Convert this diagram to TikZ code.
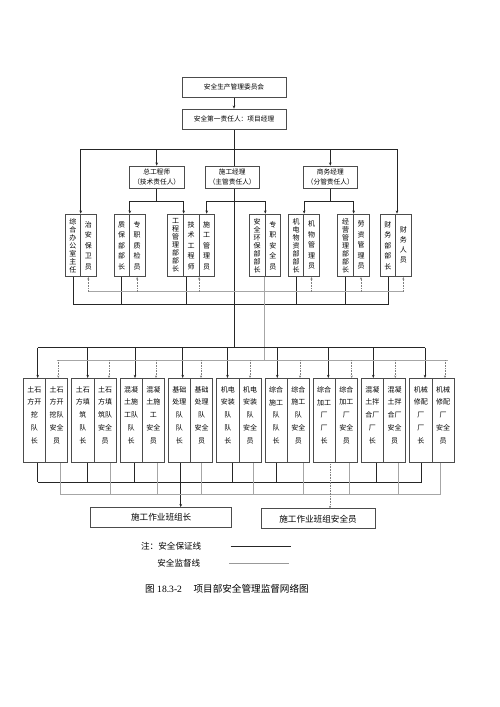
\documentclass[tikz,border=0pt]{standalone}
\usepackage{fontspec}
\setmainfont{Liberation Serif}
\newfontfamily\cjk{Noto Sans CJK SC}
\usetikzlibrary{arrows.meta,backgrounds}
\begin{document}
\begin{tikzpicture}[x=1pt,y=-1pt,
  bx/.style={draw=black!70, line width=0.6pt, inner sep=0pt, align=center, fill=white},
  topbox/.style={bx, minimum width=104pt, minimum height=20pt, font=\cjk\fontsize{6.7}{8}\selectfont},
  midbox/.style={bx, minimum width=54.5pt, minimum height=22pt, font=\cjk\fontsize{6.7}{10}\selectfont},
  vbox/.style={bx, minimum width=15.7pt, minimum height=62.7pt, font=\cjk\fontsize{7}{#1}\selectfont},
  pbox/.style={bx, minimum width=22.2pt, minimum height=83.7pt},
  ptext/.style={align=center, inner sep=0pt, font=\cjk\fontsize{7}{12.9}\selectfont},
  botbox/.style={bx, minimum height=20pt, font=\cjk\fontsize{8.6}{10}\selectfont},
  lg/.style={inner sep=0pt, font=\cjk\fontsize{8.6}{10}\selectfont},
  ln/.style={draw=black!85, line width=0.7pt},
  arr/.style={ln, -{Stealth[length=3.2pt,width=2.6pt]}},
  gl/.style={draw=black!35, line width=0.6pt},
  garr/.style={draw=black!50, line width=0.6pt, densely dotted, -{Stealth[length=2.6pt,width=2.2pt]}}]
\useasboundingbox (0,0) rectangle (500,707);

% top
\node[topbox] (wyh) at (234,87) {安全生产管理委员会};
\node[topbox] (zrr) at (234,119) {安全第一责任人：项目经理};
\node[midbox] (zgc) at (156.7,177) {总工程师\\（技术责任人）};
\node[midbox] (sgj) at (232.2,177) {施工经理\\（主管责任人）};
\node[midbox] (swj) at (330.3,177) {商务经理\\（分管责任人）};

% row 2
\node[vbox=8] (a1) at (72.85,245.35) {综\\合\\办\\公\\室\\主\\任};
\node[vbox=10.5] (a2) at (88.35,245.35) {治\\安\\保\\卫\\员};
\node[vbox=10.5] (a3) at (121.65,245.35) {质\\保\\部\\部\\长};
\node[vbox=10.5] (a4) at (137.15,245.35) {专\\职\\质\\检\\员};
\node[vbox=8] (a5) at (175.5,245.35) {工\\程\\管\\理\\部\\部\\长};
\node[vbox=10.5] (a6) at (191,245.35) {技\\术\\工\\程\\师};
\node[vbox=10.5] (a7) at (206.7,245.35) {施\\工\\管\\理\\员};
\node[vbox=8] (a8) at (257.15,245.35) {安\\全\\环\\保\\部\\部\\长};
\node[vbox=10.5] (a9) at (272.85,245.35) {专\\职\\安\\全\\员};
\node[vbox=8] (a10) at (296,245.35) {机\\电\\物\\资\\部\\部\\长};
\node[vbox=10.5] (a11) at (311.5,245.35) {机\\物\\管\\理\\员};
\node[vbox=8] (a12) at (345.5,245.35) {经\\营\\管\\理\\部\\部\\长};
\node[vbox=10.5] (a13) at (361,245.35) {劳\\资\\管\\理\\员};
\node[vbox=10.5] (a14) at (387.85,245.35) {财\\务\\部\\部\\长};
\node[vbox=10] (a15) at (403.35,245.35) {财\\务\\人\\员};

% row 3
\foreach \i/\s/\A/\B in {
  1/23.3/{土石\\方开\\挖\\队\\长}/{土石\\方开\\挖队\\安全\\员},
  2/71.7/{土石\\方填\\筑\\队\\长}/{土石\\方填\\筑队\\安全\\员},
  3/120/{混凝\\土施\\工队\\队\\长}/{混凝\\土施\\工\\安全\\员},
  4/168.3/{基础\\处理\\队\\队\\长}/{基础\\处理\\队\\安全\\员},
  5/216.7/{机电\\安装\\队\\队\\长}/{机电\\安装\\队\\安全\\员},
  6/265/{综合\\施工\\队\\队\\长}/{综合\\施工\\队\\安全\\员},
  7/313/{综合\\加工\\厂\\厂\\长}/{综合\\加工\\厂\\安全\\员},
  8/361.3/{混凝\\土拌\\合厂\\厂\\长}/{混凝\\土拌\\合厂\\安全\\员},
  9/409.7/{机械\\修配\\厂\\厂\\长}/{机械\\修配\\厂\\安全\\员}} {
  \node[pbox] (L\i) at (\s+11.1,420.15) {};
  \node[pbox] (R\i) at (\s+33.3,420.15) {};
  \node[ptext] (tL\i) at (\s+11.1,415.2) {\A};
  \node[ptext] (tR\i) at (\s+33.3,415.2) {\B};
}

% bottom boxes
\node[botbox, minimum width=141pt] (bz) at (161.2,517.5) {施工作业班组长};
\node[botbox, minimum width=114pt] (bza) at (318,518.7) {施工作业班组安全员};

% legend and caption
\node[lg, anchor=east] (n1) at (201.5,546) {注：安全保证线};
\node[lg, anchor=east] (n2) at (200.5,563.5) {安全监督线};
\node[font=\fontsize{9.6}{11}\selectfont, inner sep=0pt] (cap) at (227,588.3) {{\cjk 图} 18.3-2\hspace{1.2em}{\cjk 项目部安全管理监督网络图}};

\begin{pgfonlayer}{background}
\coordinate (barL) at (80.7,149.3);
\coordinate (barR) at (397,149.3);
\coordinate (b2) at (0,201.7);
\coordinate (b3) at (0,304.3);
\coordinate (g2) at (0,291.7);
\coordinate (busB) at (0,347.7);
\coordinate (g3) at (0,360);

\draw[arr] (wyh) -- (zrr);
\draw[ln] (zrr.south) -- (zrr.south |- busB);
\draw[ln] (barL) -- (barR);
\draw[arr] (barL) -- (barL |- a1.north);
\draw[arr] (barR) -- (barR |- a15.north);
\draw[arr] (zgc.north |- barL) -- (zgc.north);
\draw[arr] (swj.north |- barL) -- (swj.north);

\draw[ln] (zgc.south) -- (zgc.south |- b2);
\draw[arr] (zgc.south |- b2) -| (a3.north east);
\draw[arr] (zgc.south |- b2) -| (a5.north east);
\draw[arr] (sgj.south |- b2) -| (a7.north);
\draw[arr] (sgj.south |- b2) -| (a8.north east);
\draw[ln] (swj.south) -- (swj.south |- b2);
\draw[arr] (swj.south |- b2) -| (a10.north east);
\draw[arr] (swj.south |- b2) -| (a12.north east);

% under row 2: guarantee lines
\draw[ln] (a1.south) |- (b3 -| a14.south) -- (a14.south);
\draw[ln] (a3.south) -- (a3.south |- b3);
\draw[ln] (186.7,0 |- a6.south) -- (186.7,0 |- b3);
\draw[ln] (a10.south) -- (a10.south |- b3);
\draw[ln] (a12.south) -- (a12.south |- b3);

% under row 2: supervision lines
\draw[gl] (a2.south |- g2) -- (a15.south |- g2);
\draw[garr] (a2.south |- g2) -- (a2.south);
\draw[garr] (a4.south |- g2) -- (a4.south);
\draw[garr] (a6.south east |- g2) -- (a6.south east);
\draw[garr] (a11.south |- g2) -- (a11.south);
\draw[garr] (a13.south |- g2) -- (a13.south);
\draw[garr] (a15.south |- g2) -- (a15.south);
\draw[gl] (a9.south west) -- (a9.south west |- g3);

% lower buses
\draw[ln] (37.7,347.7) -- (425,347.7);
\foreach \x/\n in {37.7/1,87.7/2,135/3,182.7/4,227.5/5,277.3/6,328.3/7,373.3/8,425/9}
  \draw[arr] (\x,347.7) -- (\x,0 |- L\n.north);
\draw[gl] (56.7,360) -- (448.3,360);
\foreach \x/\n in {58.3/1,109/2,156/3,201/4,250/5,300/6,351.7/7,395.3/8,445/9}
  \draw[garr] (\x,360) -- (\x,0 |- R\n.north);

% below row 3
\foreach \x/\n in {37.7/1,87.7/2,134/3,180.7/4,232.3/5,276.5/6,376.7/8,421.7/9}
  \draw[ln] (\x,0 |- L\n.south) -- (\x,482.3);
\draw[ln] (37.7,482.3) -- (421.7,482.3);
\draw[arr] (180.7,482.3) -- (180.7,0 |- bz.north);
\foreach \x/\n in {60.3/1,110.5/2,157.2/3,201.5/4,253/5,303.3/6,349.7/7,398/8,440.5/9}
  \draw[gl] (\x,0 |- R\n.south) -- (\x,494);
\draw[gl] (60.3,494) -- (441,494);
\draw[garr] (330,0 |- L7.south) -- (330,0 |- bza.north);

% legend lines
\draw[ln] ([xshift=29.2pt]n1.east) -- ++(60,0);
\draw[gl, draw=black!40] ([xshift=28.8pt]n2.east) -- ++(60,0);
\end{pgfonlayer}
\end{tikzpicture}
\end{document}
